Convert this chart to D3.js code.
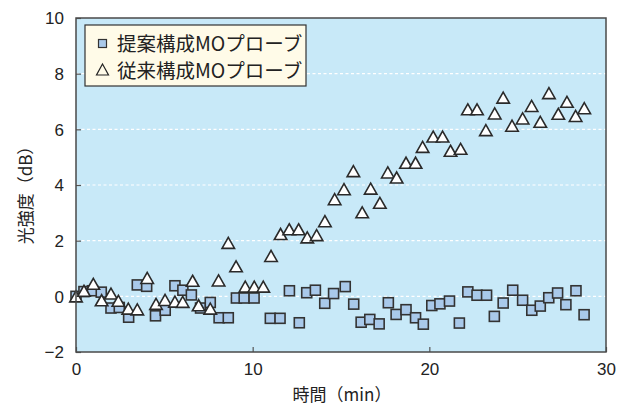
<!DOCTYPE html>
<html>
<head>
<meta charset="utf-8">
<script src="https://cdn.jsdelivr.net/npm/d3@7"></script>
<style>
  html, body { margin: 0; padding: 0; background: #ffffff; }
  svg { display: block; }
  text { font-family: "Liberation Sans", Arial, sans-serif; fill: #222; }
  .jp { font-family: "Noto Sans CJK JP", "Noto Sans", sans-serif; }
</style>
</head>
<body>
<svg id="chart" width="635" height="409"></svg>
<script>
// Axis ticks
const xTicks = [0, 10, 20, 30];
const yTicks = [-2, 0, 2, 4, 6, 8, 10];
const gridValues = [0, 2, 4, 6, 8];

// Series labels
const seriesNames = ["提案構成MOプローブ", "従来構成MOプローブ"];
const xTitle = "時間（min）";
const yTitle = "光強度（dB）";

// Proposed MO probe (squares): time [min], intensity [dB]
const proposedTime = [0, 0.45, 0.93, 1.43, 1.98, 2.45, 2.98, 3.47, 4.0, 4.5,
  5.05, 5.6, 6.05, 6.53, 7.05, 7.6, 8.1, 8.62, 9.08, 9.52,
  10.08, 11.0, 11.55, 12.08, 12.64, 13.06, 13.55, 14.08, 14.58, 15.24,
  15.72, 16.14, 16.63, 17.16, 17.68, 18.12, 18.68, 19.22, 19.66, 20.14,
  20.6, 21.14, 21.7, 22.18, 22.7, 23.24, 23.68, 24.18, 24.72, 25.28,
  25.8, 26.28, 26.76, 27.26, 27.73, 28.3, 28.76];
const proposedValue = [0.0, 0.17, 0.2, 0.15, -0.42, -0.4, -0.75, 0.41, 0.36, -0.7,
  -0.5, 0.38, 0.22, 0.05, -0.42, -0.22, -0.77, -0.77, -0.06, -0.06,
  -0.06, -0.79, -0.79, 0.2, -0.95, 0.13, 0.22, -0.25, 0.1, 0.35,
  -0.28, -0.93, -0.83, -0.99, -0.23, -0.65, -0.48, -0.77, -1.0, -0.33,
  -0.27, -0.17, -0.96, 0.16, 0.04, 0.04, -0.72, -0.24, 0.22, -0.14,
  -0.5, -0.35, -0.05, 0.12, -0.3, 0.2, -0.66];

// Conventional MO probe (triangles): time [min], intensity [dB]
const conventionalTime = [0, 0.45, 0.98, 1.45, 1.98, 2.4, 2.96, 3.47, 4.03, 4.53,
  5.04, 5.6, 6.04, 6.6, 6.94, 7.6, 8.07, 8.62, 9.06, 9.58,
  10.09, 10.6, 11.04, 11.58, 12.07, 12.6, 13.09, 13.62, 14.09, 14.64,
  15.17, 15.7, 16.2, 16.68, 17.2, 17.65, 18.15, 18.68, 19.22, 19.62,
  20.22, 20.75, 21.2, 21.77, 22.18, 22.7, 23.2, 23.7, 24.18, 24.68,
  25.28, 25.79, 26.28, 26.77, 27.3, 27.79, 28.28, 28.77];
const conventionalValue = [0.0, 0.2, 0.45, -0.14, 0.1, -0.16, -0.44, -0.47, 0.66, -0.27,
  -0.13, -0.19, -0.2, 0.56, -0.32, -0.44, 0.57, 1.92, 1.08, 0.35,
  0.35, 0.35, 1.45, 2.24, 2.41, 2.41, 2.12, 2.2, 2.7, 3.49,
  3.85, 4.5, 3.02, 3.87, 3.36, 4.45, 4.27, 4.8, 4.8, 5.37,
  5.74, 5.74, 5.23, 5.3, 6.72, 6.72, 5.97, 6.57, 7.14, 6.13,
  6.39, 6.84, 6.27, 7.3, 6.56, 6.99, 6.48, 6.76];

const proposed = proposedTime.map((t, i) => ({ t, v: proposedValue[i] }));
const conventional = conventionalTime.map((t, i) => ({ t, v: conventionalValue[i] }));

const svg = d3.select("#chart");
const plot = { left: 76, right: 606, top: 18, bottom: 352 };

const x = d3.scaleLinear().domain([0, 30]).range([plot.left, plot.right]);
const y = d3.scaleLinear().domain([-2, 10]).range([plot.bottom, plot.top]);

// Plot background
svg.append("rect")
  .attr("x", plot.left).attr("y", plot.top)
  .attr("width", plot.right - plot.left).attr("height", plot.bottom - plot.top)
  .attr("fill", "#c8e9f8");

// Dotted horizontal grid lines
svg.append("g").selectAll("line").data(gridValues).join("line")
  .attr("x1", plot.left).attr("x2", plot.right)
  .attr("y1", d => y(d)).attr("y2", d => y(d))
  .attr("stroke", "#ffffff").attr("stroke-width", 1.2)
  .attr("stroke-dasharray", "3,2.5");

// Axes with inward ticks
const xAxis = d3.axisBottom(x).tickValues(xTicks).tickSizeInner(-5).tickSizeOuter(0).tickPadding(12);
const yAxis = d3.axisLeft(y).tickValues(yTicks)
  .tickFormat(d => d < 0 ? "\u2212" + Math.abs(d) : String(d))
  .tickSizeInner(-5).tickSizeOuter(0).tickPadding(12);

const gx = svg.append("g").attr("transform", `translate(0,${plot.bottom})`).call(xAxis);
const gy = svg.append("g").attr("transform", `translate(${plot.left},0)`).call(yAxis);
[gx, gy].forEach(g => {
  g.select(".domain").remove();
  g.selectAll(".tick line").attr("stroke", "#555").attr("stroke-width", 1.2);
  g.selectAll(".tick text")
    .style("font-family", "'Liberation Sans', Arial, sans-serif")
    .style("font-size", "17px").attr("fill", "#222");
});
gy.selectAll(".tick text").attr("dy", "0.34em");
gx.selectAll(".tick text").attr("dy", "0.62em");

// Markers
const sq = 10;
const triW = 12.5, triH = 11;
const triPath = `M0,${-triH / 2}L${triW / 2},${triH / 2}L${-triW / 2},${triH / 2}Z`;

svg.append("g").selectAll("rect").data(proposed).join("rect")
  .attr("x", d => x(d.t) - sq / 2).attr("y", d => y(d.v) - sq / 2)
  .attr("width", sq).attr("height", sq)
  .attr("fill", "#a9c9ea").attr("stroke", "#333").attr("stroke-width", 1.6);

svg.append("g").selectAll("path").data(conventional).join("path")
  .attr("transform", d => `translate(${x(d.t)},${y(d.v)})`)
  .attr("d", triPath)
  .attr("fill", "#ffffff").attr("stroke", "#2a2a2a").attr("stroke-width", 1.6)
  .attr("stroke-linejoin", "miter");

// Plot frame
svg.append("rect")
  .attr("x", plot.left).attr("y", plot.top)
  .attr("width", plot.right - plot.left).attr("height", plot.bottom - plot.top)
  .attr("fill", "none").attr("stroke", "#4a4a4a").attr("stroke-width", 1.5);

// Legend
const lg = svg.append("g");
lg.append("rect")
  .attr("x", 85).attr("y", 25).attr("width", 221).attr("height", 61)
  .attr("fill", "#fffbe8").attr("stroke", "#333").attr("stroke-width", 1.2);
lg.append("rect")
  .attr("x", 98.5).attr("y", 39.5).attr("width", 8).attr("height", 8)
  .attr("fill", "#a9c9ea").attr("stroke", "#333").attr("stroke-width", 1.2);
lg.append("path")
  .attr("transform", "translate(102.5,69.5)")
  .attr("d", "M0,-5.5L6,5.5L-6,5.5Z")
  .attr("fill", "none").attr("stroke", "#222").attr("stroke-width", 1.2);
lg.selectAll("text").data(seriesNames).join("text")
  .attr("class", "jp")
  .attr("x", 117).attr("y", (d, i) => 44 + i * 27)
  .attr("dy", "0.35em")
  .style("font-size", "19.5px")
  .text(d => d);

// Axis titles
svg.append("text").attr("class", "jp")
  .attr("x", 342).attr("y", 395).attr("text-anchor", "middle")
  .attr("dy", "0.35em").style("font-size", "17px")
  .text(xTitle);
svg.append("text").attr("class", "jp")
  .attr("transform", "translate(26,191) rotate(-90)")
  .attr("text-anchor", "middle").attr("dy", "0.35em")
  .style("font-size", "17px")
  .text(yTitle);
</script>
</body>
</html>
